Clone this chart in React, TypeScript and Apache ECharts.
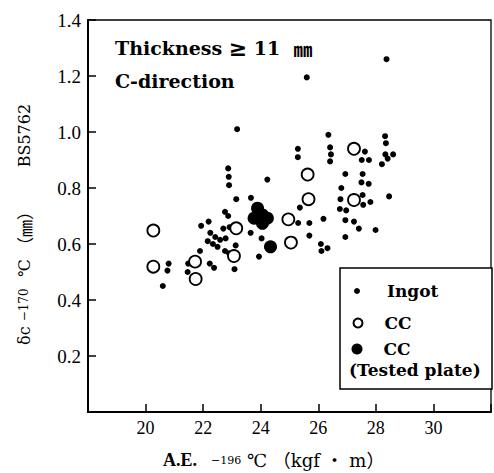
import React, { useEffect, useRef } from "react";
import * as echarts from "echarts";

// Ingot (small dots)
const ingotAE = [
  20.8, 20.76, 20.6, 21.48, 21.46, 22.23, 22.38, 21.89, 21.93, 22.19,
  22.25, 22.42, 22.59, 22.16, 22.34, 22.5, 22.78, 22.76, 22.76, 22.87,
  22.7, 23.09, 23.13, 23.65, 23.15, 23.66, 22.9, 22.89, 22.87, 23.18,
  24.23, 24.03, 23.94, 22.92, 22.9, 25.29, 25.29, 25.6, 26.35, 26.41,
  26.44, 26.41, 27.62, 27.51, 27.76, 28.32, 28.35, 28.33, 28.6, 28.41,
  28.21, 28.37, 26.94, 27.54, 27.5, 27.75, 26.8, 28.46, 27.54, 27.81,
  27.56, 26.77, 26.75, 26.97, 25.36, 25.3, 25.69, 26.18, 26.94, 27.24,
  27.41, 27.99, 26.94, 25.69, 26.09, 26.32, 26.11,
];
const ingotCOD = [
  0.53, 0.505, 0.45, 0.53, 0.5, 0.53, 0.515, 0.575, 0.665, 0.68,
  0.64, 0.625, 0.615, 0.61, 0.6, 0.59, 0.62, 0.575, 0.715, 0.7,
  0.655, 0.51, 0.595, 0.64, 0.76, 0.765, 0.81, 0.84, 0.87, 1.01,
  0.83, 0.62, 0.555, 0.66, 0.567, 0.94, 0.91, 1.195, 0.99, 0.945,
  0.92, 0.895, 0.93, 0.9, 0.9, 0.985, 0.96, 0.92, 0.92, 0.905,
  0.885, 1.26, 0.85, 0.85, 0.82, 0.815, 0.8, 0.77, 0.775, 0.75,
  0.74, 0.76, 0.725, 0.72, 0.73, 0.675, 0.675, 0.69, 0.685, 0.68,
  0.655, 0.65, 0.625, 0.63, 0.6, 0.585, 0.575,
];

// CC (open circles)
const ccAE = [20.27, 20.27, 21.72, 21.74, 23.15, 23.07, 24.96, 25.05, 25.63, 25.66, 27.24, 27.24];
const ccCOD = [0.648, 0.519, 0.537, 0.475, 0.656, 0.557, 0.688, 0.605, 0.848, 0.76, 0.94, 0.757];

// CC tested plate (large filled)
const testedAE = [23.89, 23.77, 24.23, 24.06, 24.06, 24.34];
const testedCOD = [0.728, 0.692, 0.692, 0.704, 0.674, 0.59];

const xMin = 18;
const xMax = 32;
const xStep = 2;
const xLabelRange = [20, 30];
const yMin = 0;
const yMax = 1.4;
const yStep = 0.2;

const SERIF = "'DejaVu Serif', 'Liberation Serif', 'Noto Sans CJK JP', serif";
const TICKFONT = "'Liberation Serif', 'DejaVu Serif', serif";
const CJK = "'Noto Sans CJK JP', 'DejaVu Serif', serif";

const pairs = (xs: number[], ys: number[]) => xs.map((x, i) => [x, ys[i]]);

export default function App() {
  const ref = useRef<HTMLDivElement>(null);
  useEffect(() => {
    document.body.style.margin = "0";
    if (!ref.current) return;
    const chart = echarts.init(ref.current, undefined, { renderer: "svg" });
    const legendText = (padLeft: number) => ({
      fontFamily: SERIF,
      fontSize: 17,
      fontWeight: "bold" as const,
      color: "#000",
      lineHeight: 20,
      padding: [0, 0, 0, padLeft],
    });
    const titleRich = {
      a: { fontFamily: SERIF, fontSize: 19, fontWeight: "bold", color: "#000" },
      g: { fontFamily: SERIF, fontSize: 22, fontWeight: "bold", color: "#000" },
      u: { fontFamily: CJK, fontSize: 19, fontWeight: "bold", color: "#000" },
    };
    chart.setOption({
      animation: false,
      backgroundColor: "#fff",
      title: [
        {
          text: "{a|Thickness} {g|≥} {a|11}  {u|㎜}",
          left: 115,
          top: 37,
          padding: 0,
          textStyle: { fontFamily: SERIF, fontSize: 19, fontWeight: "bold", color: "#000", rich: titleRich },
        },
        {
          text: "C-direction",
          left: 115,
          top: 71,
          padding: 0,
          textStyle: { fontFamily: SERIF, fontSize: 19, fontWeight: "bold", color: "#000" },
        },
      ],
      grid: {
        left: 88,
        top: 20,
        width: 413,
        height: 392,
        show: true,
        borderColor: "#000",
        borderWidth: 1.3,
        backgroundColor: "transparent",
      },
      xAxis: {
        type: "value",
        min: xMin,
        max: xMax,
        interval: xStep,
        axisLine: { show: true, lineStyle: { color: "#000", width: 2 } },
        axisTick: { show: true, inside: true, length: 8, lineStyle: { color: "#000", width: 1.5 } },
        axisLabel: {
          margin: 7,
          fontFamily: TICKFONT,
          fontSize: 18,
          color: "#000",
          formatter: (v: number) => (v >= xLabelRange[0] && v <= xLabelRange[1] ? String(v) : ""),
        },
        splitLine: { show: false },
      },
      yAxis: {
        type: "value",
        min: yMin,
        max: yMax,
        interval: yStep,
        axisLine: { show: true, lineStyle: { color: "#000", width: 2 } },
        axisTick: { show: true, inside: true, length: 8, lineStyle: { color: "#000", width: 1.5 } },
        axisLabel: {
          margin: 7,
          fontFamily: TICKFONT,
          fontSize: 19,
          color: "#000",
          formatter: (v: number) => (v === 0 ? "" : v.toFixed(1)),
        },
        splitLine: { show: false },
      },
      legend: [
        {
          data: ["Ingot"],
          left: 354,
          top: 281,
          padding: 0,
          itemWidth: 6,
          itemHeight: 6,
          selectedMode: false,
          textStyle: legendText(22),
        },
        {
          data: ["CC"],
          left: 352.5,
          top: 313,
          padding: 0,
          itemWidth: 9,
          itemHeight: 9,
          selectedMode: false,
          textStyle: legendText(17),
        },
        {
          data: ["CC (Tested plate)"],
          formatter: () => "CC",
          left: 351.5,
          top: 339,
          padding: 0,
          itemWidth: 11,
          itemHeight: 11,
          selectedMode: false,
          textStyle: legendText(16),
        },
      ],
      graphic: [
        {
          type: "rect",
          z: 3,
          shape: { x: 340, y: 268, width: 152, height: 121 },
          style: { fill: "#fff", stroke: "#000", lineWidth: 1.5 },
        },
        {
          type: "text",
          z: 5,
          left: 349,
          top: 361,
          style: {
            text: "(Tested plate)",
            font: "bold 17px 'DejaVu Serif', serif",
            fill: "#000",
          },
        },
        {
          type: "text",
          z: 5,
          x: 163,
          y: 460,
          style: {
            text: "{b|A.E.}{s|    −196}{m| ℃ （kgf ・ m）}",
            align: "left",
            verticalAlign: "middle",
            fill: "#000",
            rich: {
              b: { fontFamily: "'Liberation Serif', serif", fontWeight: "bold", fontSize: 18, fill: "#000" },
              s: { fontFamily: SERIF, fontSize: 11, fill: "#000" },
              m: { fontFamily: SERIF, fontSize: 18, fill: "#000" },
            },
          },
        },
        {
          type: "text",
          z: 5,
          x: 24,
          y: 345,
          rotation: Math.PI / 2,
          style: {
            text: "{m|δc }{s|−170   }{m|℃ }{p|（㎜）}{m|       BS5762}",
            align: "left",
            verticalAlign: "middle",
            fill: "#000",
            rich: {
              m: { fontFamily: SERIF, fontSize: 16, fill: "#000" },
              s: { fontFamily: SERIF, fontSize: 12, fill: "#000" },
              p: { fontFamily: CJK, fontSize: 17, fill: "#000" },
            },
          },
        },
      ],
      series: [
        {
          name: "Ingot",
          type: "scatter",
          symbol: "circle",
          symbolSize: 6,
          data: pairs(ingotAE, ingotCOD),
          itemStyle: { color: "#000", opacity: 1 },
          z: 2,
        },
        {
          name: "CC",
          type: "scatter",
          symbol: "circle",
          symbolSize: 12,
          data: pairs(ccAE, ccCOD),
          itemStyle: { color: "#fff", borderColor: "#000", borderWidth: 1.8, opacity: 1 },
          z: 3,
        },
        {
          name: "CC (Tested plate)",
          type: "scatter",
          symbol: "circle",
          symbolSize: 13,
          data: pairs(testedAE, testedCOD),
          itemStyle: { color: "#000", opacity: 1 },
          z: 4,
        },
      ],
    });
    return () => chart.dispose();
  }, []);
  return <div ref={ref} style={{ width: 494, height: 473 }} />;
}
